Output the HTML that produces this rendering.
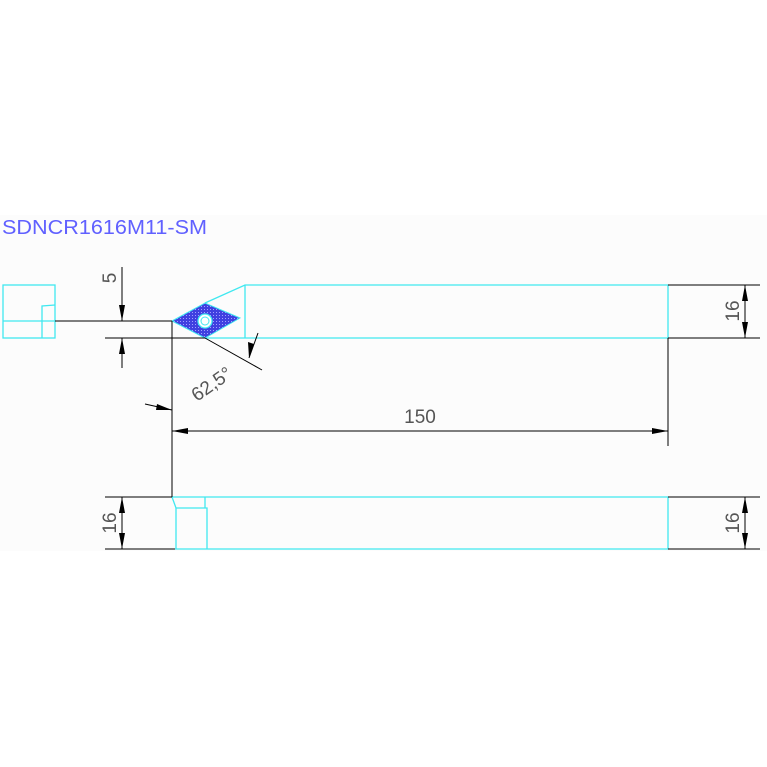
<!DOCTYPE html><html><head><style>body{margin:0;background:#fff}svg{display:block}</style></head><body>
<svg width="767" height="767" viewBox="0 0 767 767" xmlns="http://www.w3.org/2000/svg">
<defs><pattern id="h" width="3" height="3" patternUnits="userSpaceOnUse"><rect width="3" height="3" fill="#4040e0"/><rect width="1" height="1" fill="#a0a0ff"/></pattern></defs>
<rect x="0" y="215" width="767" height="336" fill="#fcfcfc"/>
<text x="2" y="234" font-family="Liberation Sans, sans-serif" font-size="20" fill="#6060ff" textLength="205" lengthAdjust="spacingAndGlyphs">SDNCR1616M11-SM</text>
<g fill="none" stroke="#40e8f0" stroke-width="1.3">
<rect x="3" y="285" width="52" height="53"/>
<line x1="3" y1="321" x2="55" y2="321"/>
<polyline points="42,338 42,306 55,305"/>
<polyline points="205,303 245,285 668,285 668,338 205,338"/>
<line x1="245" y1="285" x2="245" y2="338"/>
<polyline points="172,497 668,497 668,549 175,549"/>
<polyline points="172,497 176,508 207,508 207,549"/>
<line x1="176" y1="508" x2="176" y2="549"/>
<polyline points="205,497 205,508"/>
</g>
<polygon points="172,321 205,303 240,318 205,338" fill="url(#h)" stroke="#40e8f0"/>
<circle cx="205" cy="321" r="7" fill="#fff" stroke="#40e8f0" stroke-width="1.3"/>
<circle cx="205" cy="321" r="4" fill="none" stroke="#40e8f0"/>
<g stroke="#000" stroke-width="1" fill="none">
<line x1="55" y1="321" x2="172" y2="321"/>
<line x1="105" y1="338" x2="205" y2="338"/>
<line x1="172" y1="321" x2="172" y2="497"/>
<line x1="122" y1="267" x2="122" y2="321"/>
<line x1="122" y1="338" x2="122" y2="368"/>
<line x1="205" y1="338" x2="262" y2="370"/>
<line x1="258" y1="333" x2="249" y2="358"/>
<line x1="145" y1="404" x2="172" y2="410"/>
<line x1="172" y1="431" x2="668" y2="431"/>
<line x1="668" y1="338" x2="668" y2="446"/>
<line x1="668" y1="285" x2="760" y2="285"/>
<line x1="668" y1="338" x2="760" y2="338"/>
<line x1="745" y1="285" x2="745" y2="338"/>
<line x1="105" y1="497" x2="172" y2="497"/>
<line x1="105" y1="549" x2="175" y2="549"/>
<line x1="122" y1="497" x2="122" y2="549"/>
<line x1="668" y1="497" x2="760" y2="497"/>
<line x1="668" y1="549" x2="760" y2="549"/>
<line x1="745" y1="497" x2="745" y2="549"/>
</g>
<g fill="#000">
<polygon points="122,321 119,305 125,305"/>
<polygon points="122,338 119,354 125,354"/>
<polygon points="249,358 248,342 254,344"/>
<polygon points="172,410 156,410 157,404"/>
<polygon points="172,431 188,428 188,434"/>
<polygon points="668,431 652,428 652,434"/>
<polygon points="745,285 742,301 748,301"/>
<polygon points="745,338 742,322 748,322"/>
<polygon points="122,497 119,513 125,513"/>
<polygon points="122,549 119,533 125,533"/>
<polygon points="745,497 742,513 748,513"/>
<polygon points="745,549 742,533 748,533"/>
</g>
<g font-family="Liberation Sans, sans-serif" font-size="19" fill="#555">
<text x="420" y="423" text-anchor="middle">150</text>
<text transform="translate(116,278) rotate(-90)" text-anchor="middle">5</text>
<text transform="translate(739,311) rotate(-90)" text-anchor="middle">16</text>
<text transform="translate(116,523) rotate(-90)" text-anchor="middle">16</text>
<text transform="translate(739,523) rotate(-90)" text-anchor="middle">16</text>
<text transform="translate(197,402) rotate(-35)">62,5°</text>
</g>
</svg>
</body></html>
